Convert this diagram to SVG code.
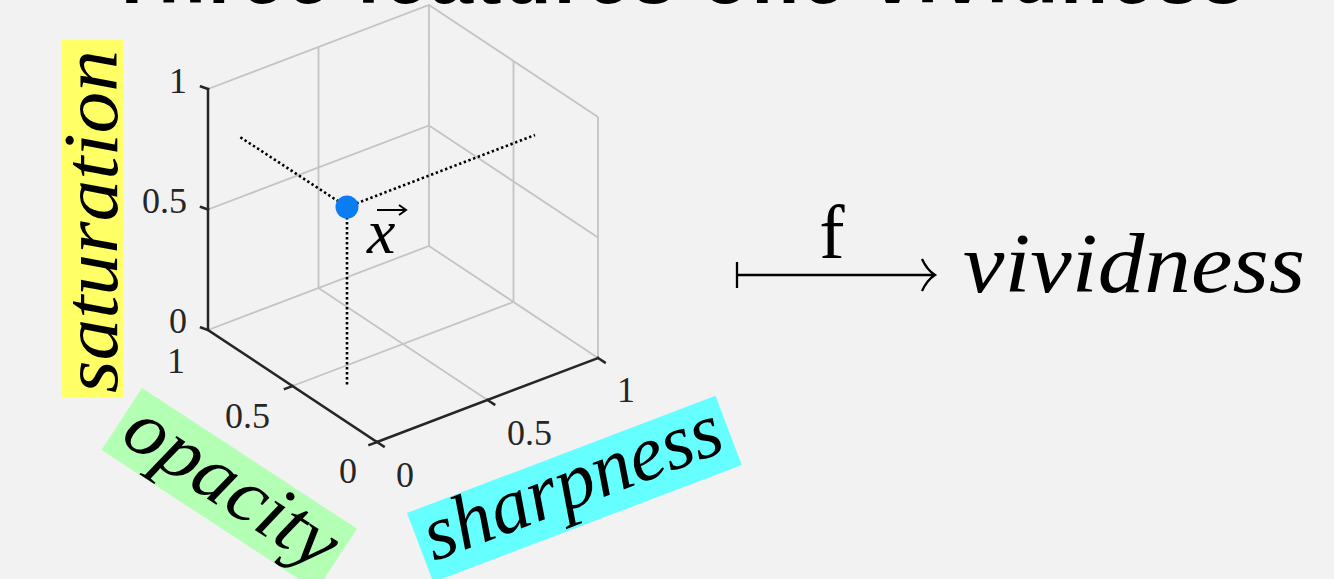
<svg xmlns="http://www.w3.org/2000/svg" width="1334" height="579" viewBox="0 0 1334 579">
<style>
.grid{stroke:#c4c4c4;stroke-width:1.8;fill:none}
.axis{stroke:#262626;stroke-width:2.5;fill:none;stroke-linecap:square}
.tick{fill:#262626;font-family:"Liberation Serif","Times New Roman",serif;font-size:36px}
.lab{fill:#000;font-family:"Liberation Serif","Times New Roman",serif;font-style:italic}
.dot{stroke:#000;stroke-width:2.6;stroke-dasharray:2.4 2.6;fill:none}
.title{fill:#000;font-family:"Liberation Sans",Arial,sans-serif;font-weight:bold;font-size:78px}
</style>
<rect width="1334" height="579" fill="#f2f2f2"/>
<text class="title" x="108" y="3" textLength="1137" lengthAdjust="spacing">Three features one vividness</text>
<g id="grid">
<path class="grid" d="M208,89 L429,5 L598,117 M429,5 V246 M598,117 V358 M208,330 L429,246 L598,358"/>
<path class="grid" d="M318.5,47 V288 M208,209.5 L429,125.5 L598,237.5 M513.5,61 V302 M318.5,288 L487.5,400 M292.5,386 L513.5,302"/>
</g>
<g id="axes">
<path class="axis" d="M208,89 V330 L377,442 L598,358"/>
<path class="axis" d="M208,89 l-7,-2.5 M208,209.5 l-7,-2.5 M208,330 l-7,-2.5 M292.5,386 l-7.5,2.8 M377,442 l-7.5,2.8 M487.5,400 l6.7,4.4 M598,358 l6.7,4.4 M377,442 l6.7,4.4"/>
<text class="tick" x="187" y="93" text-anchor="end">1</text>
<text class="tick" x="187" y="213" text-anchor="end">0.5</text>
<text class="tick" x="187" y="333" text-anchor="end">0</text>
<text class="tick" x="185" y="373" text-anchor="end">1</text>
<text class="tick" x="270" y="428" text-anchor="end">0.5</text>
<text class="tick" x="357" y="483" text-anchor="end">0</text>
<text class="tick" x="396" y="487">0</text>
<text class="tick" x="507" y="445">0.5</text>
<text class="tick" x="617" y="402">1</text>
</g>
<g id="connectors">
<path class="dot" d="M347,207 L240,137 M347,207 L535,135 M347,207 V387"/>
</g>
<g id="point">
<circle cx="347" cy="207" r="11.5" fill="#0a7df5"/>
<text class="lab" x="367" y="253" font-size="64">x</text>
<path d="M377,210 H405 M399,205 L406,210 L399,215" stroke="#000" stroke-width="2" fill="none"/>
</g>
<g id="label-saturation" transform="translate(62,397) rotate(-90)">
<rect width="357" height="61" fill="#ffff66"/>
<text class="lab" x="4" y="55" font-size="78" textLength="343" lengthAdjust="spacingAndGlyphs">saturation</text>
</g>
<g id="label-opacity" transform="translate(142,388) rotate(33.2)">
<rect width="257" height="74" fill="#b3ffb3"/>
<text class="lab" x="9" y="57" font-size="78" textLength="240" lengthAdjust="spacingAndGlyphs">opacity</text>
</g>
<g id="label-sharpness" transform="translate(407,513) rotate(-20.8)">
<rect width="330" height="74" fill="#66ffff"/>
<text class="lab" x="8" y="55" font-size="78" textLength="314" lengthAdjust="spacingAndGlyphs">sharpness</text>
</g>
<g id="map-arrow">
<path d="M737,262 V288 M737,275 H934 M922,259 Q927,270 935,275 Q927,280 922,291" stroke="#000" stroke-width="2.3" fill="none"/>
<text x="832" y="258" text-anchor="middle" font-family="Liberation Serif,Times New Roman,serif" font-size="76" fill="#000">f</text>
</g>
<g id="vividness">
<text class="lab" x="963" y="292" font-size="84" textLength="342" lengthAdjust="spacingAndGlyphs">vividness</text>
</g>
</svg>
